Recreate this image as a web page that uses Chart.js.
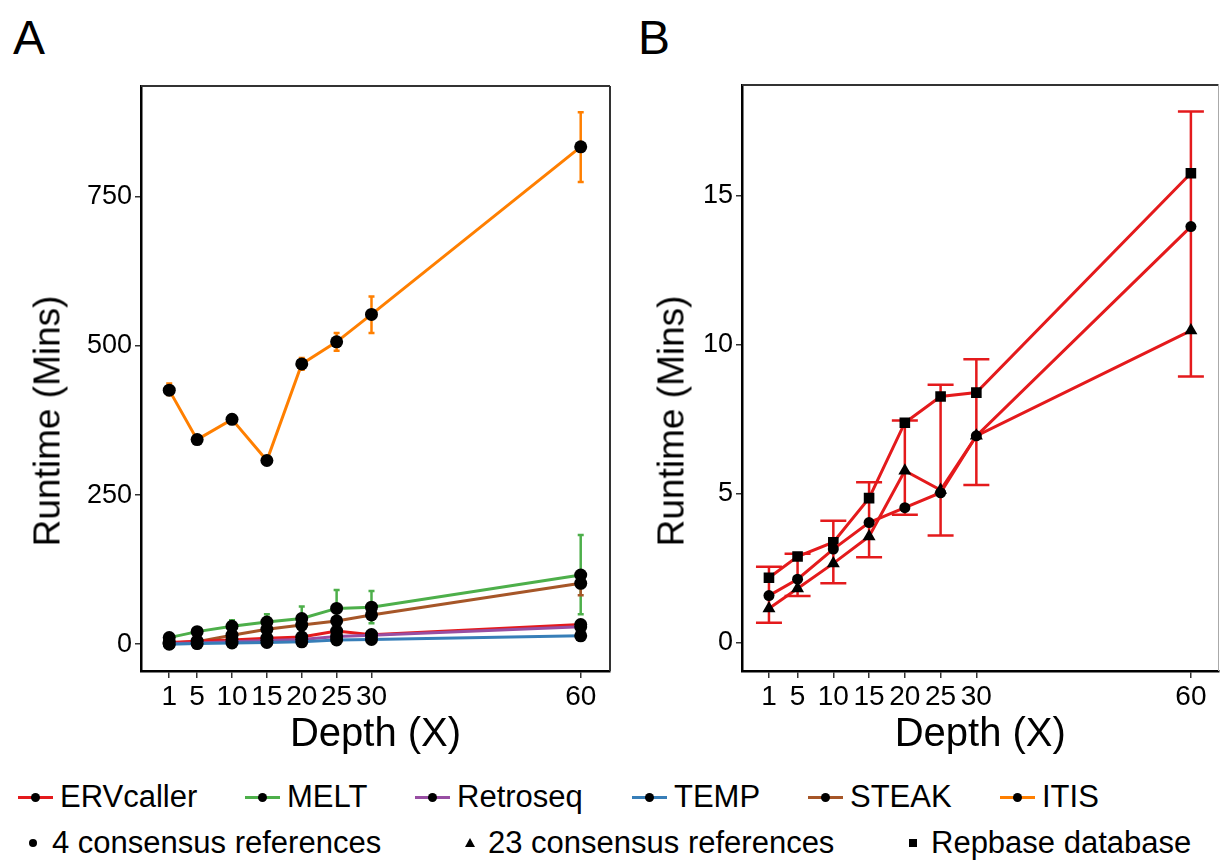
<!DOCTYPE html>
<html>
<head>
<meta charset="utf-8">
<script src="https://cdn.jsdelivr.net/npm/chart.js@4.4.0/dist/chart.umd.min.js"></script>
<style>
body { margin: 0; background: #fff; width: 1226px; height: 861px; position: relative; overflow: hidden; font-family: "Liberation Sans", Arial, sans-serif; }
.box { position: absolute; top: 0; height: 775px; }
.tag { position: absolute; font-size: 48px; line-height: 48px; color: #000; }
.ytitle { position: absolute; font-size: 37px; line-height: 37px; color: #000; white-space: nowrap; transform: translate(-50%, -50%) rotate(-90deg); }
.item { position: absolute; height: 30px; font-size: 31px; line-height: 30px; color: #000; white-space: nowrap; }
.key { position: absolute; top: 14px; width: 35px; height: 3px; }
.key i { position: absolute; left: 13px; top: -3px; width: 9px; height: 9px; border-radius: 50%; background: #000; }
.sym { position: absolute; }
</style>
</head>
<body>
<div class="tag" style="left:13px;top:14px">A</div>
<div class="tag" style="left:638px;top:14px">B</div>
<div class="box" style="left:0;width:620px"><canvas id="chartA"></canvas></div>
<div class="box" style="left:620px;width:606px"><canvas id="chartB"></canvas></div>
<div class="ytitle" style="left:47px;top:421px">Runtime (Mins)</div>
<div class="ytitle" style="left:671px;top:421px">Runtime (Mins)</div>
<div id="legend"></div>
<script>
// depth of coverage (x axis)
var depth = [1, 5, 10, 15, 20, 25, 30, 60];

// panel A, runtime in minutes
var ervcaller = [3, 5, 7, 10, 12, 22, 16, 33];
var melt = [11, 21, 30, 37, 43, 60, 62, 116];
var retroseq = [1, 2, 4, 6, 8, 13, 15, 29];
var temp = [0, 1, 2, 3, 4, 7, 8, 14];
var steak = [2, 4, 15, 25, 32, 39, 49, 102];
var itis = [426, 343, 377, 308, 470, 507, 553, 834];
// error bars (low / high), null = too small to see
var meltLo = [null, 15, 22, 25, 25, 30, 35, 50];
var meltHi = [null, 27, 40, 50, 63, 91, 89, 183];
var steakLo = [null, null, null, null, null, null, null, 82];
var steakHi = [null, null, null, null, null, null, null, 120];
var itisLo = [418, null, null, null, 460, 492, 522, 775];
var itisHi = [437, null, null, null, 480, 522, 583, 892];
var yTicksA = [0, 250, 500, 750];

// panel B, ERVcaller with different references
var consensus4 = [1.59, 2.14, 3.15, 4.04, 4.54, 5.04, 6.95, 13.97];
var consensus23 = [1.16, 1.83, 2.67, 3.57, 5.78, 5.13, 6.95, 10.48];
var repbase = [2.19, 2.9, 3.38, 4.86, 7.39, 8.27, 8.4, 15.76];
var errLoB = [0.68, 1.58, 2.0, 2.88, 4.3, 3.61, 5.3, 8.94];
var errHiB = [2.56, 2.99, 4.1, 5.39, 7.46, 8.66, 9.52, 17.83];
var yTicksB = [0, 5, 10, 15];

var FONT = '"Liberation Sans", Arial, sans-serif';
var colors = {
  ERVcaller: '#E41A1C', MELT: '#4DAF4A', Retroseq: '#984EA3',
  TEMP: '#377EB8', STEAK: '#A65628', ITIS: '#FF7F00'
};

function pts(ys) {
  return depth.map(function (d, i) { return { x: d, y: ys[i] }; });
}

// error bars drawn from the chart's own scales
var errorBars = {
  id: 'errorBars',
  beforeDatasetsDraw: function (chart, args, opts) {
    var ctx = chart.ctx, xs = chart.scales.x, ys = chart.scales.y;
    (opts.sets || []).forEach(function (s) {
      ctx.save();
      ctx.strokeStyle = s.color;
      ctx.lineWidth = s.width;
      for (var i = 0; i < depth.length; i++) {
        if (s.lo[i] == null) continue;
        var x = xs.getPixelForValue(depth[i]);
        var y1 = ys.getPixelForValue(s.lo[i]);
        var y2 = ys.getPixelForValue(s.hi[i]);
        ctx.beginPath();
        ctx.moveTo(x, y1); ctx.lineTo(x, y2);
        ctx.moveTo(x - s.cap, y1); ctx.lineTo(x + s.cap, y1);
        ctx.moveTo(x - s.cap, y2); ctx.lineTo(x + s.cap, y2);
        ctx.stroke();
      }
      ctx.restore();
    });
  }
};

// top and right edge of the panel
var frame = {
  id: 'frame',
  afterDraw: function (chart, args, opts) {
    var a = chart.chartArea, ctx = chart.ctx;
    ctx.save();
    ctx.strokeStyle = opts.topColor;
    ctx.lineWidth = 2;
    ctx.beginPath(); ctx.moveTo(a.left, a.top); ctx.lineTo(a.right, a.top); ctx.stroke();
    ctx.strokeStyle = opts.rightColor;
    ctx.lineWidth = opts.rightWidth;
    ctx.beginPath(); ctx.moveTo(a.right, a.top); ctx.lineTo(a.right, a.bottom); ctx.stroke();
    ctx.restore();
  }
};

function scales(xmin, xmax, ymin, ymax, yTicks, yWidth) {
  return {
    x: {
      type: 'linear', min: xmin, max: xmax,
      afterBuildTicks: function (s) { s.ticks = depth.map(function (v) { return { value: v }; }); },
      afterFit: function (s) { s.height = 775 - 671; },
      grid: { drawOnChartArea: false, tickLength: 7, color: '#333', lineWidth: 1.5 },
      border: { display: true, color: '#000', width: 2.5 },
      ticks: { autoSkip: false, maxRotation: 0, color: '#000', padding: 2, font: { family: FONT, size: 28 } },
      title: { display: true, text: 'Depth (X)', color: '#000', padding: { top: 0, bottom: 16 }, font: { family: FONT, size: 40 } }
    },
    y: {
      min: ymin, max: ymax,
      afterBuildTicks: function (s) { s.ticks = yTicks.map(function (v) { return { value: v }; }); },
      afterFit: function (s) { s.width = yWidth; },
      grid: { drawOnChartArea: false, tickLength: 6, color: '#333', lineWidth: 1.5 },
      border: { display: true, color: '#000', width: 2.5 },
      ticks: { color: '#000', padding: 3, font: { family: FONT, size: 27 } }
    }
  };
}

function line(label, ys, color, style, r) {
  return {
    label: label, data: pts(ys), borderColor: color, borderWidth: 3,
    pointStyle: style || 'circle', pointRadius: r || 6.5,
    pointBackgroundColor: '#000', pointBorderColor: '#000', pointBorderWidth: 0,
    tension: 0
  };
}

new Chart(document.getElementById('chartA'), {
  type: 'line',
  data: {
    datasets: [
      line('TEMP', temp, colors.TEMP),
      line('Retroseq', retroseq, colors.Retroseq),
      line('ERVcaller', ervcaller, colors.ERVcaller),
      line('STEAK', steak, colors.STEAK),
      line('MELT', melt, colors.MELT),
      line('ITIS', itis, colors.ITIS)
    ]
  },
  options: {
    responsive: true, maintainAspectRatio: false, animation: false,
    layout: { padding: { top: 86, right: 10, left: 0, bottom: 0 } },
    scales: scales(-3.05, 64.2, -45, 936, yTicksA, 141),
    plugins: {
      legend: { display: false }, tooltip: { enabled: false },
      errorBars: { sets: [
        { lo: meltLo, hi: meltHi, color: colors.MELT, width: 2.5, cap: 3 },
        { lo: steakLo, hi: steakHi, color: colors.STEAK, width: 2.5, cap: 3 },
        { lo: itisLo, hi: itisHi, color: colors.ITIS, width: 2.5, cap: 3 }
      ] },
      frame: { topColor: '#333', rightColor: '#333', rightWidth: 2 }
    }
  },
  plugins: [errorBars, frame]
});

new Chart(document.getElementById('chartB'), {
  type: 'line',
  data: {
    datasets: [
      line('4 consensus references', consensus4, colors.ERVcaller, 'circle', 5.5),
      line('23 consensus references', consensus23, colors.ERVcaller, 'triangle', 7.5),
      line('Repbase database', repbase, colors.ERVcaller, 'rect', 7.5)
    ]
  },
  options: {
    responsive: true, maintainAspectRatio: false, animation: false,
    layout: { padding: { top: 85, right: 1, left: 0, bottom: 0 } },
    scales: scales(-2.77, 63.86, -0.94, 18.72, yTicksB, 122),
    plugins: {
      legend: { display: false }, tooltip: { enabled: false },
      errorBars: { sets: [
        { lo: errLoB, hi: errHiB, color: colors.ERVcaller, width: 2.5, cap: 13 }
      ] },
      frame: { topColor: '#333', rightColor: '#aaa', rightWidth: 1 }
    }
  },
  plugins: [errorBars, frame]
});

// legend rows
var tools = ['ERVcaller', 'MELT', 'Retroseq', 'TEMP', 'STEAK', 'ITIS'];
var toolKeyX = [18, 245, 415, 632, 808, 1000];
var refs = ['4 consensus references', '23 consensus references', 'Repbase database'];
var refKeyX = [33, 470, 913];
var leg = document.getElementById('legend');
tools.forEach(function (t, i) {
  var d = document.createElement('div');
  d.className = 'item';
  d.style.left = toolKeyX[i] + 'px';
  d.style.top = '782px';
  d.innerHTML = '<span class="key" style="left:0;background:' + colors[t] + '"><i></i></span>' +
    '<span style="position:absolute;left:42px">' + t + '</span>';
  leg.appendChild(d);
});
var symbols = [
  '<span class="sym" style="left:-4px;top:11px;width:8px;height:8px;border-radius:50%;background:#000"></span>',
  '<span class="sym" style="left:-5px;top:10px;width:0;height:0;border-left:5px solid transparent;border-right:5px solid transparent;border-bottom:9px solid #000"></span>',
  '<span class="sym" style="left:-4px;top:11px;width:8px;height:8px;background:#000"></span>'
];
refs.forEach(function (t, i) {
  var d = document.createElement('div');
  d.className = 'item';
  d.style.left = refKeyX[i] + 'px';
  d.style.top = '828px';
  d.innerHTML = symbols[i] + '<span style="position:absolute;left:' + (i === 0 ? 19 : 18) + 'px">' + t + '</span>';
  leg.appendChild(d);
});
</script>
</body>
</html>
